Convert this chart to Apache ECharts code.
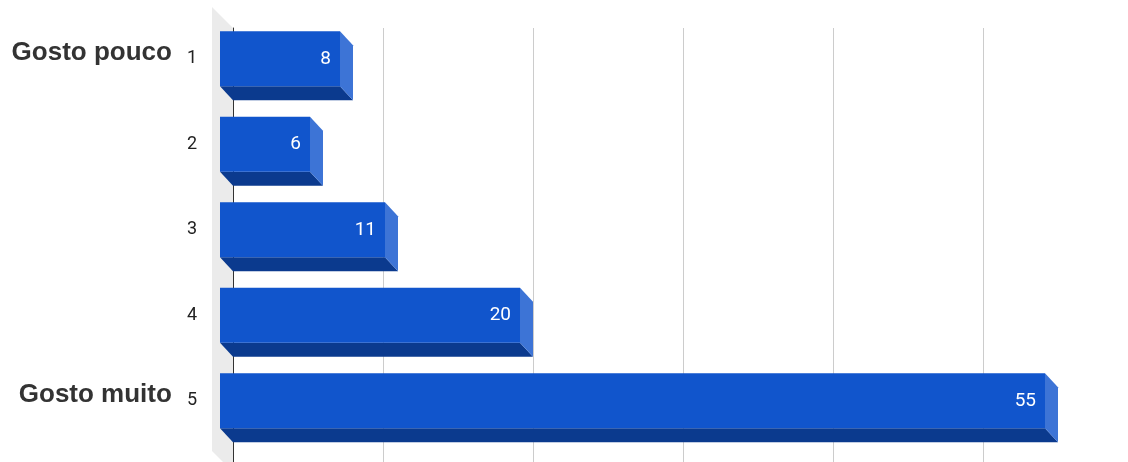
<!DOCTYPE html>
<html>
<head>
<meta charset="utf-8">
<script src="https://cdn.jsdelivr.net/npm/echarts@6/dist/echarts.min.js"></script>
<style>
  html, body { margin: 0; padding: 0; background: #fff; }
  #chart { width: 1128px; height: 462px; }
</style>
</head>
<body>
<div id="chart"></div>
<script>
// Survey answers on a 1–5 scale, count of responses per level
const categories = ['1', '2', '3', '4', '5'];
const counts = [8, 6, 11, 20, 55];
const scaleEnds = { '1': 'Gosto pouco', '5': 'Gosto muito' };
const axisMax = 60;
const axisStep = 10;

// Depth of the 3D boxes and of the side wall (pixels)
const DX = 13, DY = 14;
const WALL = 21;

const FRONT = '#1155cc';
const BOTTOM = '#0b3a8e';
const SIDE = '#3d74d6';

const chart = echarts.init(document.getElementById('chart'), null, { renderer: 'canvas' });

const plotW = 900;
const bandsH = 427.5;

function renderBox(params, api) {
  const cat = api.value(0);
  const v = api.value(1);
  const p0 = api.coord([0, cat]);
  const p1 = api.coord([v, cat]);
  const band = api.size([0, 1])[1];
  const h = band * 0.643;
  const x0 = p0[0], x1 = p1[0];
  const yt = p0[1] - h / 2, yb = p0[1] + h / 2;
  const fx0 = x0 - DX, fx1 = x1 - DX, fyt = yt - DY, fyb = yb - DY;
  return {
    type: 'group',
    children: [
      { type: 'polygon', shape: { points: [[fx0, fyb], [fx1, fyb], [x1, yb], [x0, yb]] },
        style: { fill: BOTTOM } },
      { type: 'polygon', shape: { points: [[fx1, fyt], [x1, yt], [x1, yb], [fx1, fyb]] },
        style: { fill: SIDE } },
      { type: 'rect', shape: { x: fx0, y: fyt, width: fx1 - fx0, height: h },
        style: { fill: FRONT } },
      { type: 'text', style: {
          text: String(v), x: fx1 - 9, y: (fyt + fyb) / 2,
          align: 'right', verticalAlign: 'middle',
          fill: '#ffffff', font: '19px Roboto' } }
    ]
  };
}

function renderWall(params, api) {
  const cs = params.coordSys;
  const x = cs.x, top = cs.y, bot = cs.y + cs.height;
  return {
    type: 'polygon',
    shape: { points: [[x, top], [x - WALL, top - WALL], [x - WALL, bot - WALL], [x, bot]] },
    style: { fill: '#ebebeb' },
    z2: -1
  };
}

const option = {
  animation: false,
  grid: [
    // back plane: gridlines and the axis line
    { left: 233, top: 28, width: plotW, bottom: -10, outerBoundsMode: 'none' },
    // bars, on the back plane
    { left: 233, top: 30, width: plotW, height: bandsH, outerBoundsMode: 'none' },
    // front plane: category labels
    { left: 233 - DX, top: 30 - DY, width: plotW, height: bandsH, outerBoundsMode: 'none' }
  ],
  xAxis: [
    { gridIndex: 0, type: 'value', min: 0, max: axisMax, interval: axisStep,
      axisLabel: { show: false }, axisLine: { show: false }, axisTick: { show: false },
      splitLine: { show: true, lineStyle: { color: '#cccccc', width: 1 } } },
    { gridIndex: 1, type: 'value', min: 0, max: axisMax, interval: axisStep, show: false },
    { gridIndex: 2, type: 'value', min: 0, max: axisMax, interval: axisStep, show: false }
  ],
  yAxis: [
    { gridIndex: 0, type: 'category', data: categories, inverse: true,
      axisLine: { show: true, lineStyle: { color: '#333333', width: 1 } },
      axisTick: { show: false }, axisLabel: { show: false }, splitLine: { show: false }, z: 5 },
    { gridIndex: 1, type: 'category', data: categories, inverse: true, show: false },
    { gridIndex: 2, type: 'category', data: categories, inverse: true,
      axisLine: { show: false }, axisTick: { show: false }, splitLine: { show: false },
      axisLabel: {
        show: true, margin: 23,
        formatter: function (val) {
          const end = scaleEnds[val];
          return end ? '{t|' + end + '}{n|' + val + '}' : '{n|' + val + '}';
        },
        rich: {
          t: { fontFamily: 'Liberation Sans', fontWeight: 'bold', fontSize: 26,
               color: '#333333', padding: [0, 15, 12, 0] },
          n: { fontFamily: 'Roboto', fontSize: 18, color: '#222222' }
        }
      } }
  ],
  series: [
    { type: 'custom', xAxisIndex: 0, yAxisIndex: 0, data: [[0, 0]],
      renderItem: renderWall, silent: true, z: 1 },
    { type: 'custom', xAxisIndex: 1, yAxisIndex: 1,
      data: counts.map((v, i) => [i, v]),
      encode: { x: 1, y: 0 },
      renderItem: renderBox, z: 10 }
  ]
};

chart.setOption(option);
</script>
</body>
</html>
